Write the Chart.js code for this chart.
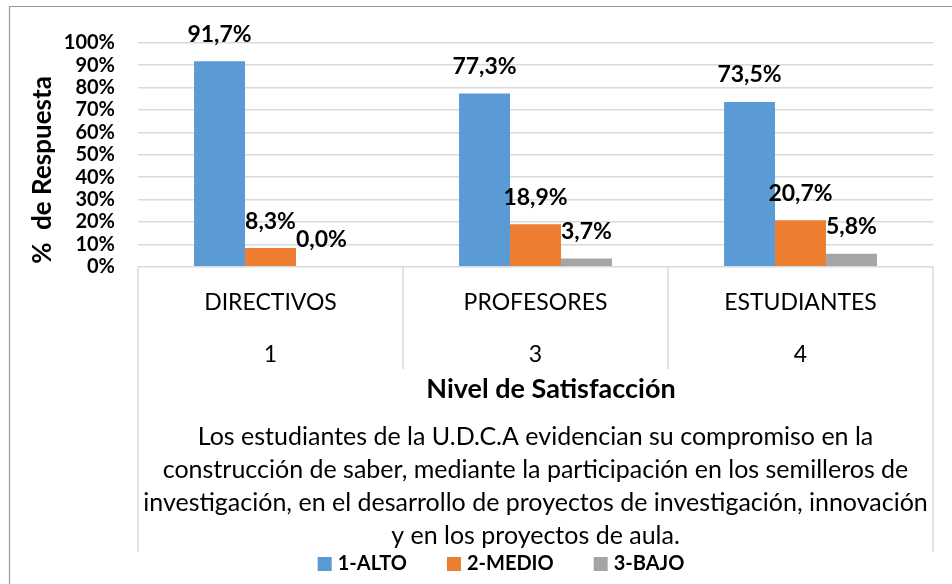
<!DOCTYPE html>
<html>
<head>
<meta charset="utf-8">
<script src="https://cdn.jsdelivr.net/npm/chart.js@4/dist/chart.umd.min.js"></script>
<style>
  html, body { margin: 0; padding: 0; background: #fff; }
  #wrap { width: 952px; height: 584px; position: relative; }
</style>
</head>
<body>
<div id="wrap"><canvas id="c" width="952" height="584"></canvas></div>
<script>
// ---- data ----
const categories = ['DIRECTIVOS', 'PROFESORES', 'ESTUDIANTES'];
const categoryCodes = ['1', '3', '4'];
const seriesNames = ['1-ALTO', '2-MEDIO', '3-BAJO'];
const alto  = [91.7, 77.3, 73.5];
const medio = [8.3, 18.9, 20.7];
const bajo  = [0.0, 3.7, 5.8];
const yAxisTitle = '%  de Respuesta';
const xAxisTitle = 'Nivel de Satisfacción';
const captionLines = [
  'Los estudiantes de la U.D.C.A evidencian su compromiso en la',
  'construcción de saber, mediante la participación en los semilleros de',
  'investigación, en el desarrollo de proyectos de investigación, innovación',
  'y en los proyectos de aula.'
];
const seriesColors = ['#5B9BD5', '#ED7D31', '#A5A5A5'];

const FONT = 'Lato, "Open Sans", sans-serif';
const GRID = '#D9D9D9';

function fmt(v) { return v.toFixed(1).replace('.', ',') + '%'; }

const decor = {
  id: 'decor',
  beforeDraw(chart) {
    const ctx = chart.ctx;
    ctx.save();
    ctx.fillStyle = '#fff';
    ctx.fillRect(0, 0, chart.width, chart.height);
    // outer chart border (only left and top visible)
    ctx.strokeStyle = '#9a9a9a';
    ctx.lineWidth = 1.2;
    ctx.beginPath();
    ctx.moveTo(9.5, chart.height + 5);
    ctx.lineTo(9.5, 6.5);
    ctx.lineTo(chart.width + 5, 6.5);
    ctx.stroke();
    ctx.restore();
  },
  afterDraw(chart) {
    const ctx = chart.ctx;
    const a = chart.chartArea;
    const xs = chart.scales.x;
    ctx.save();
    // category boxes below axis
    ctx.strokeStyle = GRID;
    ctx.lineWidth = 1.5;
    ctx.beginPath();
    ctx.moveTo(a.left, a.bottom); ctx.lineTo(a.left, 552);
    ctx.moveTo(a.right, a.bottom); ctx.lineTo(a.right, 552);
    for (let i = 0; i < categories.length - 1; i++) {
      const bx = (xs.getPixelForTick(i) + xs.getPixelForTick(i + 1)) / 2;
      ctx.moveTo(bx, a.bottom); ctx.lineTo(bx, 369);
    }
    ctx.stroke();

    // y axis title
    ctx.fillStyle = '#000';
    ctx.font = 'bold 26px ' + FONT;
    ctx.textAlign = 'center';
    ctx.textBaseline = 'middle';
    ctx.save();
    ctx.translate(43, 170);
    ctx.rotate(-Math.PI / 2);
    ctx.fillText(yAxisTitle, 0, 0);
    ctx.restore();

    // x axis title
    ctx.font = 'bold 27px ' + FONT;
    ctx.textBaseline = 'alphabetic';
    ctx.fillText(xAxisTitle, 551, 398);

    // caption
    ctx.font = '25px ' + FONT;
    const cx = (a.left + a.right) / 2;
    captionLines.forEach((t, i) => ctx.fillText(t, cx, 445 + i * 33));

    // legend (from datasets)
    ctx.font = 'bold 20px ' + FONT;
    const ds = chart.data.datasets;
    const box = 14, gap = 6, itemGap = 40;
    const widths = ds.map(d => box + gap + ctx.measureText(d.label).width);
    const total = widths.reduce((s, w) => s + w, 0) + itemGap * (ds.length - 1);
    let x = 501 - total / 2;
    ctx.textAlign = 'left';
    ctx.textBaseline = 'middle';
    ds.forEach((d, i) => {
      ctx.fillStyle = d.backgroundColor;
      ctx.fillRect(x, 557, box, box);
      ctx.fillStyle = '#000';
      ctx.fillText(d.label, x + box + gap, 564);
      x += widths[i] + itemGap;
    });
    ctx.restore();
  },
  afterDatasetsDraw(chart) {
    const ctx = chart.ctx;
    ctx.save();
    ctx.fillStyle = '#000';
    ctx.font = 'bold 23px ' + FONT;
    ctx.textAlign = 'center';
    ctx.textBaseline = 'middle';
    chart.data.datasets.forEach((d, i) => {
      const meta = chart.getDatasetMeta(i);
      meta.data.forEach((bar, j) => {
        ctx.fillText(fmt(d.data[j]), bar.x, bar.y - 27);
      });
    });
    ctx.restore();
  }
};

new Chart(document.getElementById('c'), {
  type: 'bar',
  data: {
    labels: categories.map((c, i) => [c, categoryCodes[i]]),
    datasets: [
      { label: seriesNames[0], data: alto,  backgroundColor: seriesColors[0] },
      { label: seriesNames[1], data: medio, backgroundColor: seriesColors[1] },
      { label: seriesNames[2], data: bajo,  backgroundColor: seriesColors[2] }
    ]
  },
  options: {
    responsive: false,
    animation: false,
    devicePixelRatio: 1,
    layout: { padding: { top: 42.7, right: 19, bottom: 0, left: 0 } },
    datasets: { bar: { categoryPercentage: 0.577, barPercentage: 1.0 } },
    plugins: { legend: { display: false }, tooltip: { enabled: false } },
    scales: {
      x: {
        grid: { display: false, drawTicks: false },
        border: { display: false },
        ticks: {
          autoSkip: false, maxRotation: 0, minRotation: 0,
          padding: 9,
          color: '#000',
          font: { family: FONT, size: 23, lineHeight: 2.3 }
        },
        afterFit(s) { s.height = 584 - 266.7; }
      },
      y: {
        min: 0, max: 100,
        grid: { color: GRID, lineWidth: 1.5, drawTicks: false },
        border: { display: false },
        ticks: {
          stepSize: 10,
          autoSkip: false,
          padding: 23,
          color: '#000',
          font: { family: FONT, size: 20, weight: 'bold' },
          callback: v => v + '%'
        },
        afterFit(s) { s.width = 138; }
      }
    }
  },
  plugins: [decor]
});
</script>
</body>
</html>
